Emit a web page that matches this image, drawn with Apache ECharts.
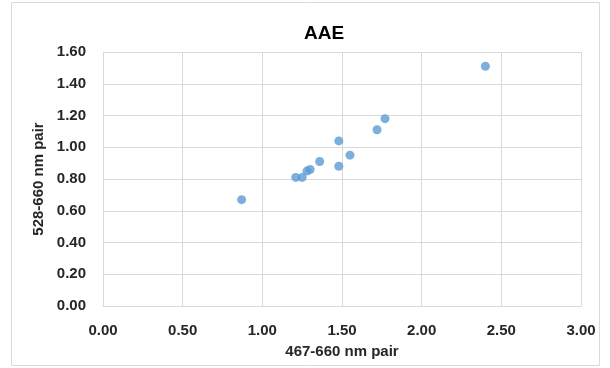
<!DOCTYPE html>
<html><head><meta charset="utf-8">
<script src="https://cdn.jsdelivr.net/npm/echarts@6/dist/echarts.min.js"></script>
<style>html,body{margin:0;padding:0;background:#fff}#c{width:610px;height:368px}</style>
</head><body><div id="c"></div>
<script>
var xValues = [0.87, 1.21, 1.25, 1.28, 1.30, 1.36, 1.48, 1.48, 1.55, 1.72, 1.77, 2.40];
var yValues = [0.67, 0.81, 0.81, 0.85, 0.86, 0.91, 0.88, 1.04, 0.95, 1.11, 1.18, 1.51];
var titleText = 'AAE';
var xName = '467-660 nm pair';
var yName = '528-660 nm pair';

var pts = xValues.map(function (x, i) { return [x, yValues[i]]; });
var chart = echarts.init(document.getElementById('c'));
var font = 'Liberation Sans';
chart.setOption({
  animation: false,
  title: { text: titleText, left: 319, top: 19, textAlign: 'center',
    textStyle: { fontFamily: font, fontSize: 19, fontWeight: 'bold', color: '#000' } },
  graphic: [{ type: 'rect', shape: { x: 11.5, y: 2.5, width: 588, height: 363 },
    style: { fill: 'none', stroke: '#d9d9d9', lineWidth: 1 }, silent: true }],
  grid: { left: 103, right: 29, top: 52, bottom: 62 },
  xAxis: {
    type: 'value', min: 0, max: 3, interval: 0.5,
    name: xName, nameLocation: 'middle', nameGap: 38,
    nameTextStyle: { fontFamily: font, fontSize: 15, fontWeight: 'bold', color: '#262626' },
    axisLine: { show: true, lineStyle: { color: '#d9d9d9' } },
    axisTick: { show: false },
    axisLabel: { fontFamily: font, fontSize: 15, fontWeight: 'bold', color: '#262626', margin: 17,
      formatter: function (v) { return v.toFixed(2); } },
    splitLine: { show: true, lineStyle: { color: '#d9d9d9' } }
  },
  yAxis: {
    type: 'value', min: 0, max: 1.6, interval: 0.2,
    name: yName, nameLocation: 'middle', nameGap: 54, nameRotate: 90,
    nameTextStyle: { fontFamily: font, fontSize: 15, fontWeight: 'bold', color: '#262626' },
    axisLine: { show: true, lineStyle: { color: '#d9d9d9' } },
    axisTick: { show: false },
    axisLabel: { fontFamily: font, fontSize: 15, fontWeight: 'bold', color: '#262626', margin: 17,
      formatter: function (v) { return v.toFixed(2); } },
    splitLine: { show: true, lineStyle: { color: '#d9d9d9' } }
  },
  series: [{ type: 'scatter', data: pts, symbolSize: 9,
    itemStyle: { color: '#5B9BD5' } }]
});
</script></body></html>
